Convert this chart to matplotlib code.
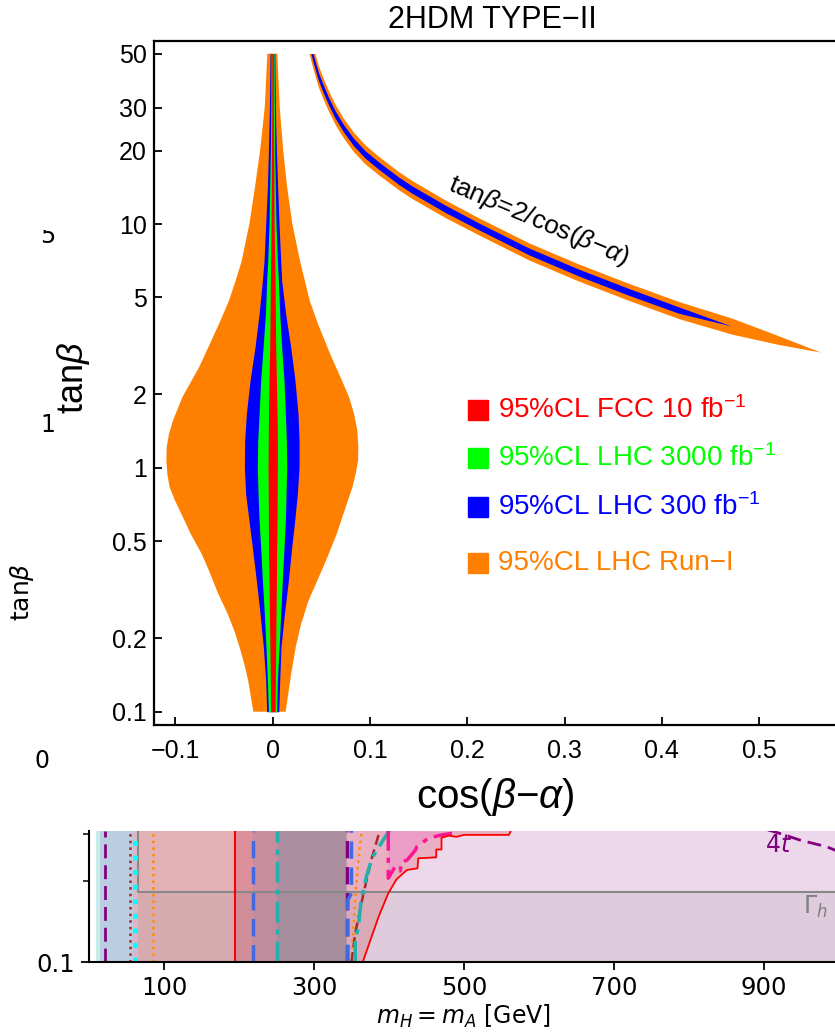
import matplotlib
matplotlib.use("Agg")
import numpy as np
import matplotlib.pyplot as plt
from matplotlib.patches import Rectangle
from matplotlib.transforms import Bbox

# ---------------- main panel: cos(beta-alpha) vs tan(beta) ----------------
# Run-I (orange) region, left and right edges read at their own tan(beta) values
orange_lo_tb = [0.1, 0.134, 0.157, 0.1837, 0.215, 0.252, 0.304, 0.379, 0.444, 0.536,
                0.648, 0.734, 0.833, 0.945, 1.071, 1.215, 1.379, 1.563, 1.773, 1.949,
                2.281, 2.586, 3.124, 3.895, 4.857, 5.866, 7.08, 10.0, 14.1, 20.0, 30.1, 50.0]
orange_lo = [-0.0199, -0.0252, -0.0292, -0.0340, -0.0395, -0.0463, -0.0559, -0.0655,
             -0.0730, -0.0843, -0.0939, -0.1004, -0.1059, -0.1083, -0.1093, -0.1090,
             -0.1066, -0.1025, -0.0970, -0.0929, -0.0833, -0.0757, -0.0662, -0.0552,
             -0.0449, -0.0380, -0.0318, -0.0240, -0.0183, -0.0130, -0.0082, -0.0055]
orange_hi_tb = [0.1, 0.1429, 0.1837, 0.229, 0.2856, 0.345, 0.430, 0.536, 0.690, 0.833,
                0.945, 1.071, 1.215, 1.422, 1.665, 1.949, 2.281, 2.935, 3.895, 4.857,
                5.866, 7.08, 10.0, 14.1, 20.0, 30.1, 50.0]
orange_hi = [0.0133, 0.0190, 0.0236, 0.0292, 0.0368, 0.0459, 0.0562, 0.0658, 0.0750,
             0.0819, 0.0853, 0.0877, 0.0880, 0.0870, 0.0836, 0.0785, 0.0712, 0.0590,
             0.0465, 0.0380, 0.0330, 0.0280, 0.0202, 0.0149, 0.0108, 0.0072, 0.0047]

core_tb = [0.1, 0.134, 0.1837, 0.252, 0.345, 0.472, 0.608, 0.782, 1.006, 1.294, 1.665,
           2.281, 3.124, 4.282, 5.866, 7.08, 10.0, 14.1, 20.0, 30.1, 50.0]
blue_lo = [-0.0062, -0.0072, -0.0096, -0.0130, -0.0168, -0.0209, -0.0244, -0.0278,
           -0.0291, -0.0288, -0.0271, -0.0233, -0.0182, -0.0140, -0.0106, -0.0089,
           -0.0072, -0.0055, -0.0044, -0.0034, -0.0027]
blue_hi = [0.0062, 0.0072, 0.0085, 0.0120, 0.0161, 0.0195, 0.0226, 0.0253, 0.0271,
           0.0271, 0.0260, 0.0229, 0.0185, 0.0133, 0.0092, 0.0082, 0.0065, 0.0051,
           0.0038, 0.0027, 0.0021]
green_lo = [-0.0044, -0.0055, -0.0069, -0.0086, -0.0106, -0.0124, -0.0140, -0.0151,
            -0.0158, -0.0154, -0.0140, -0.0124, -0.0099, -0.0075, -0.0062, -0.0051,
            -0.0038, -0.0031, -0.0024, -0.0019, -0.0017]
green_hi = [0.0041, 0.0048, 0.0065, 0.0082, 0.0099, 0.0116, 0.0130, 0.0137, 0.0144,
            0.0140, 0.0130, 0.0116, 0.0092, 0.0072, 0.0058, 0.0048, 0.0034, 0.0027,
            0.0021, 0.0017, 0.0014]
red_lo = [-0.0021, -0.0024, -0.0029, -0.0034, -0.0038, -0.0043, -0.0044, -0.0046,
          -0.0048, -0.0046, -0.0043, -0.0038, -0.0031, -0.0027, -0.0024, -0.0021,
          -0.0017, -0.0014, -0.0012, -0.0010, -0.0010]
red_hi = [0.0024, 0.0027, 0.0031, 0.0034, 0.0038, 0.0041, 0.0045, 0.0046, 0.0048,
          0.0048, 0.0045, 0.0038, 0.0031, 0.0027, 0.0024, 0.0021, 0.0014, 0.0012,
          0.0010, 0.0007, 0.0007]

# wrong-sign branch, tan(beta) ~ 2/cos(beta-alpha)
hyp_cos = [0.0375, 0.0407, 0.0442, 0.0476, 0.0527, 0.0579, 0.0647, 0.0733, 0.0836,
           0.0956, 0.1093, 0.1298, 0.1435, 0.1778, 0.2120, 0.2634, 0.3148, 0.3662,
           0.4176, 0.4720, 0.5200, 0.5635]
hyp_tb = [56.0, 49.9, 44.5, 40.0, 35.5, 31.8, 28.0, 24.6, 21.6, 19.2, 17.3, 15.0, 13.8,
          11.5, 9.75, 7.7, 6.3, 5.25, 4.42, 3.80, 3.33, 2.97]
hyp_orange_w = [0.045, 0.045, 0.045, 0.044, 0.043, 0.042, 0.041, 0.040, 0.040, 0.039,
                0.038, 0.037, 0.037, 0.036, 0.035, 0.035, 0.035, 0.035, 0.035, 0.033,
                0.018, 0.0]
hyp_blue_w = [0.016, 0.016, 0.016, 0.016, 0.016, 0.015, 0.015, 0.015, 0.015, 0.015,
              0.015, 0.015, 0.015, 0.015, 0.014, 0.014, 0.014, 0.014, 0.013, 0.0]

yticks = [0.1, 0.2, 0.5, 1, 2, 5, 10, 20, 30, 50]
ytick_labels = ["0.1", "0.2", "0.5", "1", "2", "5", "10", "20", "30", "50"]
xticks = [-0.1, 0.0, 0.1, 0.2, 0.3, 0.4, 0.5]
xtick_labels = ["\u22120.1", "0", "0.1", "0.2", "0.3", "0.4", "0.5"]

legend_labels = [r"95%CL FCC 10 fb$^{\mathregular{-1}}$",
                 r"95%CL LHC 3000 fb$^{\mathregular{-1}}$",
                 r"95%CL LHC 300 fb$^{\mathregular{-1}}$",
                 "95%CL LHC Run\u2212I"]
ORANGE, BLUE, GREEN, RED = "#ff8000", "#0000ff", "#00ff00", "#ff0000"
legend_colors = [RED, GREEN, BLUE, ORANGE]

# ---------------- background panel: m_H = m_A vs tan(beta) ----------------
bg_xticks = [100, 300, 500, 700, 900]
m_purple1, m_darkred, m_cyan, m_gray, m_orange1 = 21, 55, 61, 65, 85
m_red1, m_blue1, m_teal1, m_purple2 = 195, 219, 250, 343.5
gamma_h_tb = 0.182

red_m = [365, 386, 399, 410, 424, 438, 439, 463, 463, 470, 470, 480, 490, 500, 560, 563]
red_t = [0.100, 0.147, 0.180, 0.203, 0.220, 0.223, 0.243, 0.245, 0.262, 0.262, 0.290,
         0.295, 0.292, 0.297, 0.297, 0.310]
pink_m = [399, 399, 408, 415, 417, 424, 435, 437, 452, 468, 484]
pink_t = [0.310, 0.205, 0.226, 0.218, 0.236, 0.239, 0.260, 0.268, 0.288, 0.296, 0.301]
teal_m = [355, 355, 359, 363, 370, 377, 395, 401]
teal_t = [0.100, 0.121, 0.134, 0.170, 0.208, 0.243, 0.292, 0.310]
brown_m = [350, 355, 366, 377, 388]
brown_t = [0.100, 0.128, 0.180, 0.243, 0.310]
orange_m = [350, 355, 361, 364]
orange_t = [0.100, 0.175, 0.268, 0.310]
blue_m = [345, 345, 350, 350]
blue_t = [0.100, 0.170, 0.180, 0.310]
four_top_m = [905, 919, 948, 984, 1000]
four_top_t = [0.310, 0.302, 0.284, 0.268, 0.257]

plt.rcParams["font.family"] = ["Liberation Sans", "DejaVu Sans"]
plt.rcParams["mathtext.fontset"] = "custom"
plt.rcParams["mathtext.rm"] = "Liberation Sans"
plt.rcParams["mathtext.it"] = "Liberation Sans:italic"
plt.rcParams["mathtext.bf"] = "Liberation Sans:bold"

W, H = 835, 1034


def box(x0, y0, x1, y1):
    # pixel box (top-left origin) -> figure fraction rect
    return [x0 / W, 1 - y1 / H, (x1 - x0) / W, (y1 - y0) / H]


fig = plt.figure(figsize=(W / 100, H / 100), dpi=100)

# ---- background panel (mostly hidden) ----
bx = fig.add_axes(box(89, 831, 839, 962))
bx.set_xlim(0, 1000)
bx.set_yscale("log")
bx.set_ylim(0.1, 0.307)

bx.axvspan(9.3, 14.7, color="#c8ecea", lw=0)
bx.axvspan(14.7, 59, color="#b9cee0", lw=0)
bx.axvspan(59, m_gray, color="#dbb6c9", lw=0)
bx.axvspan(m_gray, m_red1, color="#e2b1b6", lw=0)
bx.axvspan(m_red1, m_blue1, color="#dc909c", lw=0)
bx.axvspan(m_blue1, m_teal1, color="#c98da0", lw=0)
bx.axvspan(m_teal1, m_purple2, color="#ad8ea0", lw=0)
bx.axvspan(m_purple2, 1000, color="#ecd7eb", lw=0)
bx.fill(np.r_[m_purple2, red_m, m_purple2], np.r_[0.1, red_t, 0.31],
        color="#e8b0c2", lw=0)
bx.fill(np.r_[pink_m, pink_m[0]], np.r_[pink_t, 0.31], color="#eb9dc5", lw=0)
bx.fill_between([m_gray, 1000], 0.1, gamma_h_tb, color="gray", alpha=0.12, lw=0)

bx.plot([m_gray, m_gray, 1000], [0.31, gamma_h_tb, gamma_h_tb], color="#888888", lw=1.5)
bx.axvline(m_purple1, color="purple", lw=2, ls=(0, (5, 2.5)))
bx.axvline(m_darkred, color="firebrick", lw=1.8, ls=":")
bx.axvline(m_cyan, color="cyan", lw=3.5, ls=(0, (1, 2)))
bx.axvline(m_orange1, color="darkorange", lw=1.8, ls=":")
bx.axvline(m_red1, color="red", lw=1.5)
bx.axvline(m_blue1, color="royalblue", lw=2.5, ls=(0, (5, 2.5)))
bx.axvline(m_teal1, color="lightseagreen", lw=2.5, ls=(0, (6, 2, 1.5, 2)))
bx.axvline(m_purple2, color="purple", lw=2.5, ls=(0, (5, 2.5)))
bx.plot(blue_m, blue_t, color="royalblue", lw=2.5, ls=(0, (5, 2.5)))
bx.plot(orange_m, orange_t, color="darkorange", lw=1.8, ls=":")
bx.plot(brown_m, brown_t, color="brown", lw=1.8, ls=(0, (4, 2)))
bx.plot(teal_m, teal_t, color="lightseagreen", lw=2.5, ls=(0, (6, 2, 1.5, 2)))
bx.plot(pink_m, pink_t, color="deeppink", lw=2.5, ls=(0, (6, 2, 1.5, 2)))
bx.plot(red_m, red_t, color="red", lw=1.3)
bx.plot(four_top_m, four_top_t, color="purple", lw=2, ls=(0, (5, 2.5)))
bx.text(901, 0.272, r"$4t$", color="purple", fontsize=17, family="DejaVu Sans",
        math_fontfamily="dejavusans", ha="left", va="center")
bx.text(952, 0.160, r"$\Gamma_h$", color="gray", fontsize=17, family="DejaVu Sans",
        math_fontfamily="dejavusans", ha="left", va="center")

for s in ["top", "right"]:
    bx.spines[s].set_visible(False)
for s in ["left", "bottom"]:
    bx.spines[s].set_linewidth(1.5)
bx.set_xticks(bg_xticks)
bx.set_xticklabels([str(v) for v in bg_xticks], family="DejaVu Sans")
bx.set_yticks([0.1])
bx.set_yticklabels(["0.1"], family="DejaVu Sans")
bx.set_yticks([0.2, 0.3], minor=True)
bx.yaxis.set_minor_formatter(plt.NullFormatter())
bx.tick_params(which="major", length=6, width=1.3, labelsize=17.5, pad=4)
bx.tick_params(which="minor", length=4, width=1.1)
bx.set_xlabel(r"$m_H = m_A$ [GeV]", fontsize=17, family="DejaVu Sans",
              math_fontfamily="dejavusans", labelpad=2)

# stray labels of the hidden panel
clip_box = Bbox.from_extents(0, 0, W, H - 230)
for (x, y, s, fs, kw) in [(48, 236, "5", 17, {}), (48, 425, "1", 17, {}),
                          (42, 761, "0", 17, {}),
                          (22, 592, "tan" + r"$\beta$", 18, {"rotation": 90})]:
    t = fig.text(x / W, 1 - y / H, s, fontsize=fs, ha="center", va="center",
                 family="DejaVu Sans", math_fontfamily="dejavusans", **kw)
    t.set_clip_box(clip_box)
    t.set_clip_on(True)

# ---- main panel ----
ax = fig.add_axes(box(154, 40.7, 840, 725))
ax.set_facecolor("white")
ax.set_xlim(-0.122, 0.583)
ax.set_yscale("log")
ax.set_ylim(0.0882, 56.5)

ax.fill(np.r_[orange_lo, orange_hi[::-1]], np.r_[orange_lo_tb, orange_hi_tb[::-1]],
        color=ORANGE, lw=0)
ax.fill_betweenx(core_tb, blue_lo, blue_hi, color=BLUE, lw=0)
ax.fill_betweenx(core_tb, green_lo, green_hi, color=GREEN, lw=0)
ax.fill_betweenx(core_tb, red_lo, red_hi, color=RED, lw=0)

clip = Rectangle((-1, 0.01), 2, 50 - 0.01, transform=ax.transData)
hc, ht = np.array(hyp_cos), np.array(hyp_tb)
ow, bw = 10 ** np.array(hyp_orange_w), 10 ** np.array(hyp_blue_w)
nb = len(hyp_blue_w)
band_o = ax.fill(np.r_[hc, hc[::-1]], np.r_[ht * ow, (ht / ow)[::-1]], color=ORANGE, lw=0)[0]
band_b = ax.fill(np.r_[hc[:nb], hc[:nb][::-1]],
                 np.r_[ht[:nb] * bw, (ht[:nb] / bw)[::-1]], color=BLUE, lw=0)[0]
band_o.set_clip_path(clip)
band_b.set_clip_path(clip)

ax.text(0.2737, 10.3, "tan" + r"$\beta$" + "=2/cos(" + r"$\beta$" + "\u2212" + r"$\alpha$" + ")",
        rotation=-23, ha="center", va="center", fontsize=19)

ax.set_yticks(yticks)
ax.set_yticklabels(ytick_labels)
ax.minorticks_off()
ax.set_xticks(xticks)
ax.set_xticklabels(xtick_labels)
ax.tick_params(axis="both", direction="in", length=6, width=1.3, labelsize=18,
               top=False, right=False)
ax.tick_params(axis="x", pad=10)
ax.tick_params(axis="y", pad=5)
for s in ax.spines.values():
    s.set_linewidth(1.6)

# legend
leg_y = [410, 458, 507, 563]
for lab, col, yy in zip(legend_labels, legend_colors, leg_y):
    fig.patches.append(Rectangle((468 / W, 1 - (yy + 10) / H), 20 / W, 20 / H,
                                 transform=fig.transFigure, color=col, zorder=5))
    fig.text(498 / W, 1 - yy / H, lab, color=col, fontsize=20, ha="left",
             va="center", zorder=6)

fig.text(492 / W, 1 - 20 / H, "2HDM TYPE\u2212II", fontsize=22, ha="center", va="center")
fig.text(495 / W, 1 - 797 / H, "cos(" + r"$\beta$" + "\u2212" + r"$\alpha$" + ")",
         fontsize=29, ha="center", va="center")
fig.text(73 / W, 1 - 378 / H, "tan" + r"$\beta$", fontsize=26, rotation=90,
         ha="center", va="center")

fig.savefig("out.png", dpi=100)
